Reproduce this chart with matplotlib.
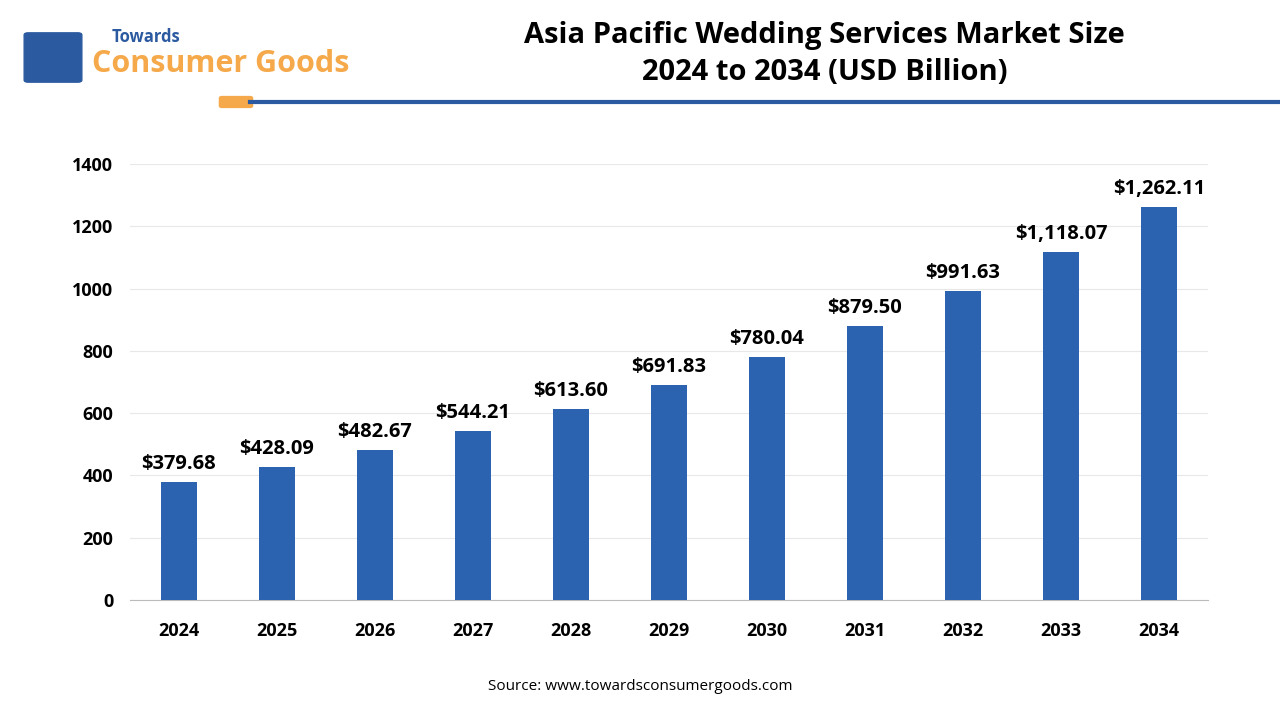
import matplotlib
matplotlib.use("Agg")
import matplotlib.pyplot as plt
from matplotlib.patches import FancyBboxPatch

years = ["2024","2025","2026","2027","2028","2029","2030","2031","2032","2033","2034"]
values = [379.68,428.09,482.67,544.21,613.60,691.83,780.04,879.50,991.63,1118.07,1262.11]
yticks = [0,200,400,600,800,1000,1200,1400]

fig = plt.figure(figsize=(12.8,7.2), dpi=100)
ax = fig.add_axes([130/1280, 1-600/720, (1208-130)/1280, (600-164)/720])
x = range(len(years))
ax.bar(x, values, width=0.36, color="#2b63b1", zorder=3)
for i, v in zip(x, values):
    ax.text(i, v + 25, f"${v:,.2f}", ha="center", va="bottom", fontsize=14.5, fontweight="bold", family="Open Sans")
ax.set_xlim(-0.5, len(years)-0.5)
ax.set_ylim(0, 1400)
ax.set_yticks(yticks)
ax.set_xticks(list(x))
ax.set_xticklabels(years)
for lab in ax.get_xticklabels()+ax.get_yticklabels():
    lab.set_fontweight("bold"); lab.set_fontsize(13); lab.set_family("Open Sans")
ax.tick_params(axis="x", length=0, pad=16)
ax.tick_params(axis="y", length=0, pad=12)
ax.grid(axis="y", color="#e8e8e8", lw=0.8, zorder=0)
for s in ["top","right","left"]:
    ax.spines[s].set_visible(False)
ax.spines["bottom"].set_color("#bbbbbb")

fig.text(0.644, 1-35/720, "Asia Pacific Wedding Services Market Size", ha="center", va="center", fontsize=21, fontweight="bold", family="Open Sans")
fig.text(0.644, 1-72/720, "2024 to 2034 (USD Billion)", ha="center", va="center", fontsize=21, fontweight="bold", family="Open Sans")
fig.add_artist(plt.Line2D([250/1280, 1], [1-102/720]*2, color="#2b5aa0", lw=3))
fig.add_artist(FancyBboxPatch((222/1280, 1-106/720), 28/1280, 8/720, boxstyle="round,pad=0.002", color="#f5a94a"))
fig.text(112/1280, 1-37/720, "Towards", fontsize=12, fontweight="bold", color="#2b5aa0", family="Open Sans", va="center")
fig.text(92/1280, 1-64/720, "Consumer Goods", fontsize=22, fontweight="bold", color="#f5a94a", family="Open Sans", va="center")
fig.add_artist(FancyBboxPatch((28/1280, 1-80/720), 50/1280, 45/720, boxstyle="round,pad=0.003", color="#2b5aa0"))
fig.text(0.5, 1-686/720, "Source: www.towardsconsumergoods.com", ha="center", va="center", fontsize=11, family="Open Sans")
fig.savefig("out.png", dpi=100)
